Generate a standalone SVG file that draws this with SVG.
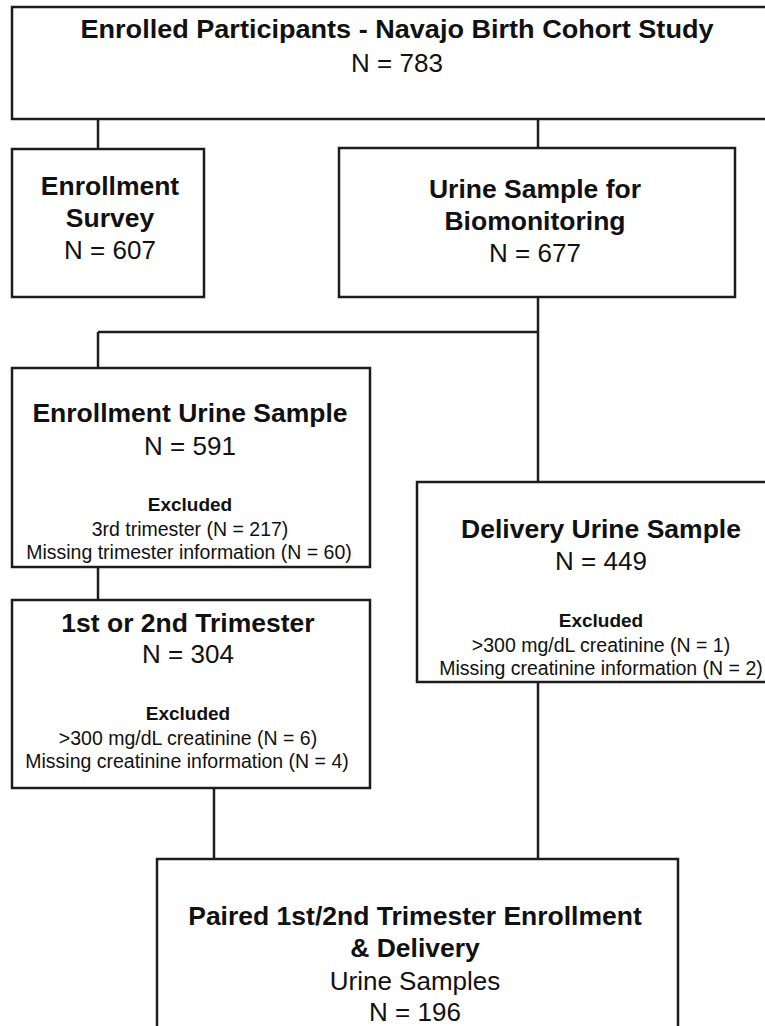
<svg xmlns="http://www.w3.org/2000/svg" width="765" height="1026" viewBox="0 0 765 1026">
<style>
.box{fill:#fff;stroke:#1c1c1c;stroke-width:2.5}
.con line{stroke:#1c1c1c;stroke-width:2.5}
text{font-family:"Liberation Sans",Arial,sans-serif;fill:#111;text-anchor:middle}
.h{font-weight:bold;font-size:26.5px}
.n{font-size:26px}
.xh{font-weight:bold;font-size:19px}
.x{font-size:19.5px}
</style>
<rect width="765" height="1026" fill="#fff"/>
<g class="con">
<line x1="98" y1="119" x2="98" y2="149"/>
<line x1="538" y1="119" x2="538" y2="148"/>
<line x1="538" y1="297" x2="538" y2="482"/>
<line x1="98" y1="332" x2="538" y2="332"/>
<line x1="98" y1="332" x2="98" y2="368"/>
<line x1="98" y1="567" x2="98" y2="600"/>
<line x1="214" y1="788" x2="214" y2="859"/>
<line x1="538" y1="682" x2="538" y2="859"/>
</g>
<g id="enrolled">
<rect class="box" x="12" y="7" width="772" height="112"/>
<text class="h" x="397" y="38" textLength="633" lengthAdjust="spacingAndGlyphs">Enrolled Participants - Navajo Birth Cohort Study</text>
<text class="n" x="397" y="72">N = 783</text>
</g>
<g id="survey">
<rect class="box" x="12" y="149" width="192" height="148"/>
<text class="h" x="110" y="195">Enrollment</text>
<text class="h" x="110" y="227">Survey</text>
<text class="n" x="110" y="259">N = 607</text>
</g>
<g id="urine">
<rect class="box" x="339" y="148" width="396" height="149"/>
<text class="h" x="535" y="198">Urine Sample for</text>
<text class="h" x="535" y="230">Biomonitoring</text>
<text class="n" x="535" y="262">N = 677</text>
</g>
<g id="enrollment-urine">
<rect class="box" x="12" y="368" width="358" height="199"/>
<text class="h" x="190" y="422">Enrollment Urine Sample</text>
<text class="n" x="190" y="455">N = 591</text>
<text class="xh" x="190" y="511">Excluded</text>
<text class="x" x="190" y="536">3rd trimester (N = 217)</text>
<text class="x" x="189" y="559">Missing trimester information (N = 60)</text>
</g>
<g id="trimester">
<rect class="box" x="12" y="600" width="358" height="188"/>
<text class="h" x="188" y="632">1st or 2nd Trimester</text>
<text class="n" x="188" y="663">N = 304</text>
<text class="xh" x="188" y="720">Excluded</text>
<text class="x" x="188" y="745">&gt;300 mg/dL creatinine (N = 6)</text>
<text class="x" x="187" y="768">Missing creatinine information (N = 4)</text>
</g>
<g id="delivery">
<rect class="box" x="417" y="482" width="370" height="200"/>
<text class="h" x="601" y="538">Delivery Urine Sample</text>
<text class="n" x="601" y="570">N = 449</text>
<text class="xh" x="601" y="627">Excluded</text>
<text class="x" x="601" y="652">&gt;300 mg/dL creatinine (N = 1)</text>
<text class="x" x="601" y="675">Missing creatinine information (N = 2)</text>
</g>
<g id="paired">
<rect class="box" x="157" y="859" width="521" height="180"/>
<text class="h" x="415" y="925">Paired 1st/2nd Trimester Enrollment</text>
<text class="h" x="415" y="957">&amp; Delivery</text>
<text class="n" x="415" y="990">Urine Samples</text>
<text class="n" x="415" y="1021">N = 196</text>
</g>
</svg>
